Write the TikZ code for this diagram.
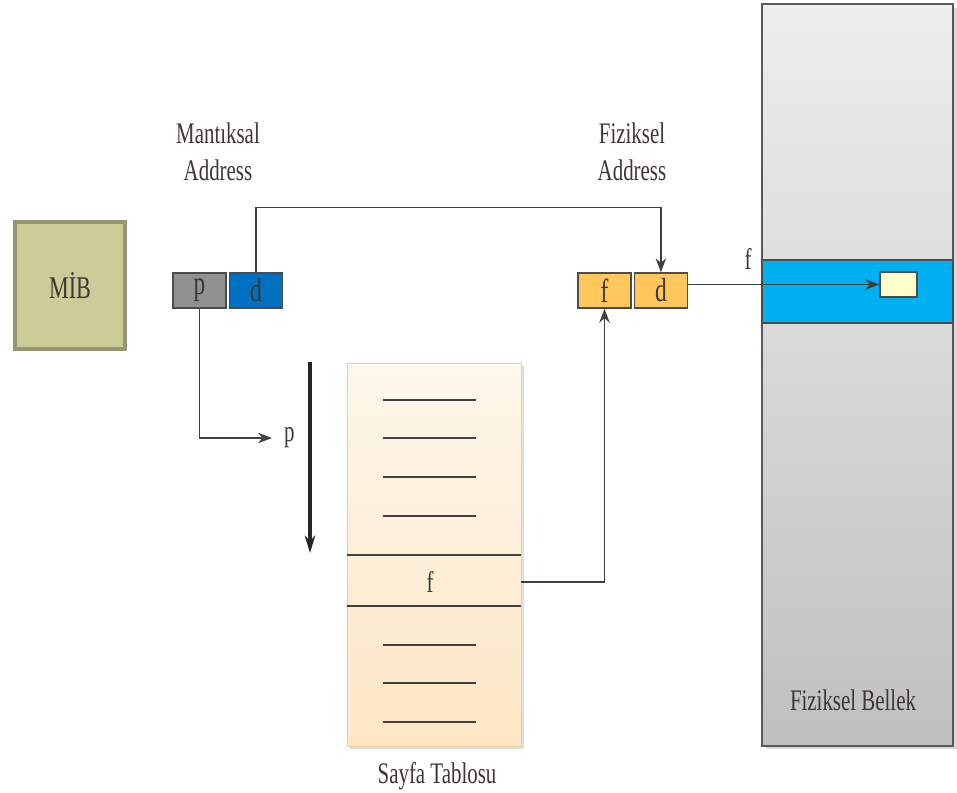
\documentclass[tikz,border=0pt]{standalone}
\usepackage{fontspec}
\setmainfont{Liberation Serif}[FakeStretch=0.7]
\usetikzlibrary{arrows.meta,positioning,shadows}

\definecolor{txt}{RGB}{60,55,50}
\definecolor{mibfill}{RGB}{204,204,153}
\definecolor{mibline}{RGB}{150,150,115}
\definecolor{pgray}{RGB}{145,145,145}
\definecolor{dblue}{RGB}{0,112,192}
\definecolor{forange}{RGB}{255,198,92}
\definecolor{bandblue}{RGB}{0,176,240}
\definecolor{wordfill}{RGB}{255,255,204}
\definecolor{tabtop}{RGB}{254,247,236}
\definecolor{tabbot}{RGB}{253,230,196}
\definecolor{tabline}{RGB}{240,205,160}
\definecolor{memtop}{RGB}{238,238,238}
\definecolor{membot}{RGB}{192,192,192}

\begin{document}
\begin{tikzpicture}
[
x=0.02cm, y=-0.02cm,
>={Stealth[length=8pt,width=6pt]},
every node/.style={font=\fontsize{17}{21}\selectfont, text=txt},
cpu/.style={rectangle, draw=mibline, line width=1.8pt, fill=mibfill, minimum width=2.2cm, minimum height=2.54cm, font=\fontsize{18}{21}\selectfont},
field/.style={rectangle, draw=black!70, thick, minimum width=1.06cm, minimum height=0.7cm, inner sep=0pt, font=\fontsize{19}{21}\selectfont},
ptable/.style={rectangle, draw=tabline, top color=tabtop, bottom color=tabbot, minimum width=3.48cm, minimum height=7.66cm, drop shadow={opacity=0.25, shadow xshift=1.5pt, shadow yshift=-1.5pt}},
memory/.style={rectangle, draw=black!65, thick, top color=memtop, bottom color=membot, minimum width=3.82cm, minimum height=14.84cm, drop shadow={opacity=0.3, shadow xshift=2pt, shadow yshift=-2pt}},
frame/.style={rectangle, draw=black!70, thick, fill=bandblue, minimum width=3.82cm, minimum height=1.26cm},
word/.style={rectangle, draw=black!70, thick, fill=wordfill, minimum width=0.74cm, minimum height=0.5cm},
rowline/.style={draw=black!75, thick},
link/.style={draw=black!75, thick, ->}
]
\useasboundingbox (0,0) rectangle (957,793);

%Nodes
\node[cpu]                      (mib)       at (70,285.5)   {MİB};
\node[field, fill=pgray]        (p)         at (199.5,290.5) {p};
\node[field, fill=dblue]        (d)         [right=0.04cm of p]  {d};
\node[align=center]             (mlabel)    at (218,152)    {Mantıksal\\Address};

\node[field, fill=forange]      (f2)        at (604.5,290.5) {f};
\node[field, fill=forange]      (d2)        [right=0.04cm of f2] {d};
\node[align=center]             (flabel)    at (632,152)    {Fiziksel\\Address};

\node[ptable]                   (table)     at (434,554.5)  {};
\node                           (frow)      at (430,582)    {f};
\node                           (tname)     at (437,776)    {Sayfa Tablosu};

\node[memory]                   (mem)       at (857.5,375)  {};
\node[frame]                    (band)      at (857.5,291.5) {};
\node[word]                     (cell)      at (898.5,284.5) {};
\node                           (fmark)     at (748,259)    {f};
\node                           (mname)     at (853,700)    {Fiziksel Bellek};

\coordinate                     (pin)       at (272,438);
\node[right=0.12cm of pin]      (pidx)                      {p};
\coordinate                     (scantop)   at (310,362);
\coordinate                     (scanbot)   at (310,553);

%Table rows
\foreach \y in {400,438,477,516,645,683,722}
  \draw[rowline] (383,\y) -- (476,\y);
\draw[rowline] (table.west |- 0,555) -- (table.east |- 0,555);
\draw[rowline] (table.west |- 0,606) -- (table.east |- 0,606);

%Lines
\draw[link] (d.north) -- ++(0,-65) -| (d2.north);
\draw[link] (p.south) |- (pin);
\draw[-{Stealth[length=10pt,width=6pt]}, draw=black!85, line width=2pt] (scantop) -- (scanbot);
\draw[link] (frow -| table.east) -| (f2.south);
\draw[link] (d2.east |- cell) -- (cell.west);
\end{tikzpicture}
\end{document}
